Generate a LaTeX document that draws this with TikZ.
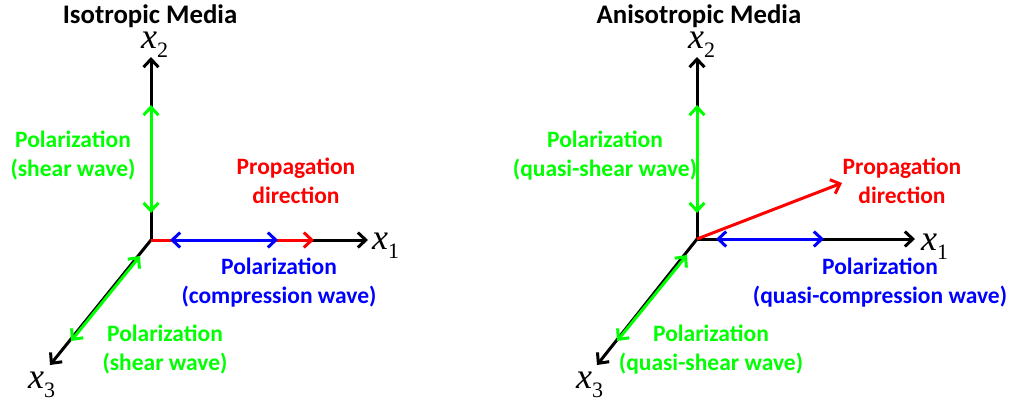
\documentclass[tikz,border=0pt]{standalone}
\usepackage{fontspec}
\setmainfont{Carlito}
\newfontfamily\tms{Liberation Serif}
\usetikzlibrary{arrows.meta}
\definecolor{lgreen}{RGB}{0,255,0}
\definecolor{lred}{RGB}{255,0,0}
\definecolor{lblue}{RGB}{0,0,255}
\tikzset{
  tip/.style={-{Straight Barb[length=8pt,width=15pt]}},
  dtip/.style={{Straight Barb[length=8pt,width=15pt]}-{Straight Barb[length=8pt,width=15pt]}},
  axis/.style={tip,line width=3pt,black},
  pol/.style={line width=3pt},
  lbl/.style={font=\fontsize{23.5}{29}\selectfont\bfseries,align=center,inner sep=0pt},
  ttl/.style={font=\fontsize{26.8}{30}\selectfont\bfseries,inner sep=0pt,anchor=base},
  axl/.style={inner sep=0pt,anchor=base west,font=\tms\fontsize{36}{36}\selectfont}
}
\newcommand{\axlab}[1]{\textit{x}\raisebox{-9pt}{\fontsize{22}{22}\selectfont #1}}
\begin{document}
\begin{tikzpicture}[x=1pt,y=-1pt]
\useasboundingbox (0,0) rectangle (1014,400);
% ---------- Left: isotropic ----------
\node[ttl] (t1) at (150,23) {Isotropic Media};
\coordinate (o1) at (151,240);
\coordinate (a1x) at (368,240);
\coordinate (a1y) at (151,57);
\coordinate (a1z) at (50,365);
\draw[axis] (o1) -- (a1x);
\draw[axis] (o1) -- (a1y);
\draw[axis] (o1) -- (a1z);
\coordinate (r1e) at (314,240);
\draw[pol,lred,tip] (o1) -- (r1e);
\coordinate (b1a) at (170,240);
\coordinate (b1b) at (278,240);
\draw[pol,lblue,dtip] (b1a) -- (b1b);
\coordinate (g1a) at (151,105);
\coordinate (g1b) at (151,213);
\draw[pol,lgreen,dtip] (g1a) -- (g1b);
\coordinate (g1c) at (140,256);
\coordinate (g1d) at (71,341);
\draw[pol,lgreen,dtip] (g1c) -- (g1d);
\node[axl] (l1x) at (372,249) {\axlab{1}};
\node[axl] (l1y) at (141,48) {\axlab{2}};
\node[axl] (l1z) at (28,388) {\axlab{3}};
\node[lbl,lgreen] (p1a) at (73,156) {Polarization\\(shear wave)};
\node[lbl,lred] (p1b) at (296,181) {Propagation\\direction};
\node[lbl,lblue] (p1c) at (279,283) {Polarization\\(compression wave)};
\node[lbl,lgreen] (p1d) at (165,350) {Polarization\\(shear wave)};
% ---------- Right: anisotropic ----------
\node[ttl] (t2) at (699,23) {Anisotropic Media};
\coordinate (o2) at (697,239);
\coordinate (a2x) at (915,239);
\coordinate (a2y) at (697,57);
\coordinate (a2z) at (597,365);
\draw[axis] (o2) -- (a2x);
\draw[axis] (o2) -- (a2y);
\draw[axis] (o2) -- (a2z);
\coordinate (r2e) at (842,183);
\draw[pol,lred,tip] (o2) -- (r2e);
\coordinate (b2a) at (716,239);
\coordinate (b2b) at (824,239);
\draw[pol,lblue,dtip] (b2a) -- (b2b);
\coordinate (g2a) at (697,105);
\coordinate (g2b) at (697,213);
\draw[pol,lgreen,dtip] (g2a) -- (g2b);
\coordinate (g2c) at (687,255);
\coordinate (g2d) at (617,341);
\draw[pol,lgreen,dtip] (g2c) -- (g2d);
\node[axl] (l2x) at (921,250) {\axlab{1}};
\node[axl] (l2y) at (688,48) {\axlab{2}};
\node[axl] (l2z) at (576,388) {\axlab{3}};
\node[lbl,lgreen] (p2a) at (605,156) {Polarization\\(quasi-shear wave)};
\node[lbl,lred] (p2b) at (902,181) {Propagation\\direction};
\node[lbl,lblue] (p2c) at (880,283) {Polarization\\(quasi-compression wave)};
\node[lbl,lgreen] (p2d) at (711,350) {Polarization\\(quasi-shear wave)};
\end{tikzpicture}
\end{document}
